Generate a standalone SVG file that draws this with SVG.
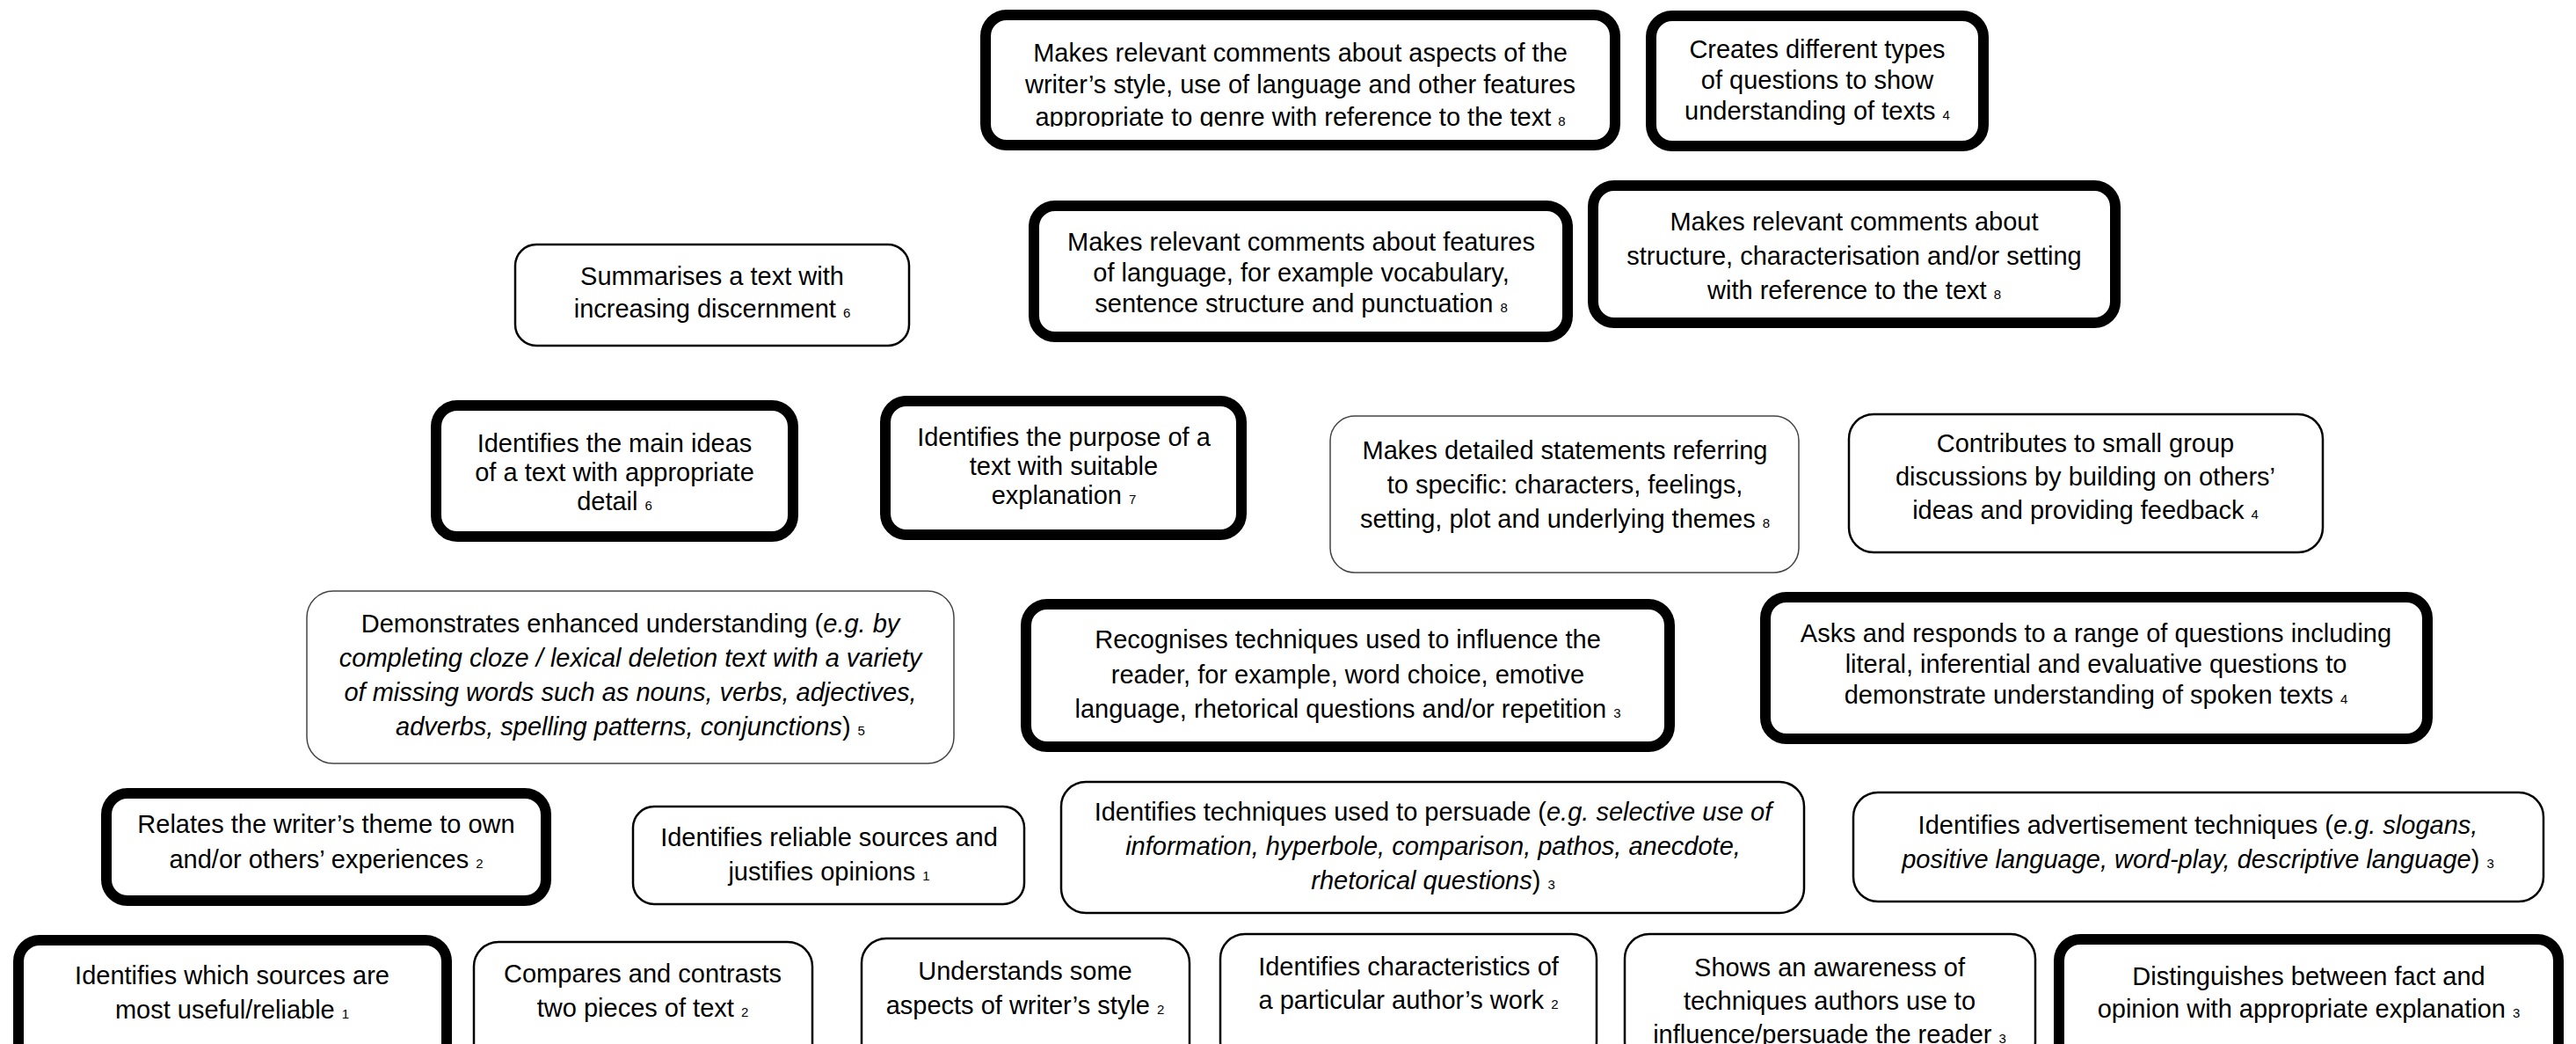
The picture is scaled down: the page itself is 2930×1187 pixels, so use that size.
<svg xmlns="http://www.w3.org/2000/svg" width="2930" height="1187" viewBox="0 0 2930 1187">
<defs>
<style>
.thick{fill:#fff;stroke:#000;stroke-width:12}
.thin{fill:#fff;stroke:#000;stroke-width:2.5}
.grey{fill:#fff;stroke:#444;stroke-width:1.5}
text{font-family:"Liberation Sans",Arial,sans-serif;font-size:29px;fill:#000;text-anchor:middle}
.n{font-size:15px}
.i{font-style:italic}
</style>
<clipPath id="c1"><rect x="1120" y="16" width="718" height="128"/></clipPath>
</defs>
<rect width="2930" height="1187" fill="#fff"/>
<g id="connectors"/>
<g id="n1"><rect class="thick" x="1121" y="17" width="716" height="148" rx="24"/>
<g clip-path="url(#c1)"><text x="1479" y="70">Makes relevant comments about aspects of the</text><text x="1479" y="106">writer’s style, use of language and other features</text><text x="1479" y="143">appropriate to genre with reference to the text <tspan class="n">8</tspan></text></g></g>
<g id="n2"><rect class="thick" x="1878" y="18" width="378" height="148" rx="24"/>
<text x="2067" y="66">Creates different types</text><text x="2067" y="101">of questions to show</text><text x="2067" y="136">understanding of texts <tspan class="n">4</tspan></text></g>
<g id="n3"><rect class="thin" x="586" y="278" width="448" height="115" rx="24"/>
<text x="810" y="324">Summarises a text with</text><text x="810" y="361">increasing discernment <tspan class="n">6</tspan></text></g>
<g id="n4"><rect class="thick" x="1176" y="234" width="607" height="149" rx="24"/>
<text x="1480" y="285">Makes relevant comments about features</text><text x="1480" y="320">of language, for example vocabulary,</text><text x="1480" y="355">sentence structure and punctuation <tspan class="n">8</tspan></text></g>
<g id="n5"><rect class="thick" x="1812" y="211" width="594" height="156" rx="24"/>
<text x="2109" y="262">Makes relevant comments about</text><text x="2109" y="301">structure, characterisation and/or setting</text><text x="2109" y="340">with reference to the text <tspan class="n">8</tspan></text></g>
<g id="n6"><rect class="thick" x="496" y="461" width="406" height="149" rx="24"/>
<text x="699" y="514">Identifies the main ideas</text><text x="699" y="547">of a text with appropriate</text><text x="699" y="580">detail <tspan class="n">6</tspan></text></g>
<g id="n7"><rect class="thick" x="1007" y="456" width="405" height="152" rx="24"/>
<text x="1210" y="507">Identifies the purpose of a</text><text x="1210" y="540">text with suitable</text><text x="1210" y="573">explanation <tspan class="n">7</tspan></text></g>
<g id="n8"><rect class="grey" x="1513" y="473" width="533" height="178" rx="28"/>
<text x="1780" y="522">Makes detailed statements referring</text><text x="1780" y="561">to specific: characters, feelings,</text><text x="1780" y="600">setting, plot and underlying themes <tspan class="n">8</tspan></text></g>
<g id="n9"><rect class="thin" x="2103" y="471" width="539" height="157" rx="28"/>
<text x="2372" y="514">Contributes to small group</text><text x="2372" y="552">discussions by building on others’</text><text x="2372" y="590">ideas and providing feedback <tspan class="n">4</tspan></text></g>
<g id="n10"><rect class="grey" x="349" y="672" width="736" height="196" rx="30"/>
<text x="717" y="719">Demonstrates enhanced understanding (<tspan class="i">e.g. by</tspan></text><text x="717" y="758" class="i">completing cloze / lexical deletion text with a variety</text><text x="717" y="797" class="i">of missing words such as nouns, verbs, adjectives,</text><text x="717" y="836"><tspan class="i">adverbs, spelling patterns, conjunctions</tspan>) <tspan class="n">5</tspan></text></g>
<g id="n11"><rect class="thick" x="1167" y="687" width="732" height="162" rx="24"/>
<text x="1533" y="737">Recognises techniques used to influence the</text><text x="1533" y="777">reader, for example, word choice, emotive</text><text x="1533" y="816">language, rhetorical questions and/or repetition <tspan class="n">3</tspan></text></g>
<g id="n12"><rect class="thick" x="2008" y="679" width="753" height="161" rx="24"/>
<text x="2384" y="730">Asks and responds to a range of questions including</text><text x="2384" y="765">literal, inferential and evaluative questions to</text><text x="2384" y="800">demonstrate understanding of spoken texts <tspan class="n">4</tspan></text></g>
<g id="n13"><rect class="thick" x="121" y="902" width="500" height="122" rx="24"/>
<text x="371" y="947">Relates the writer’s theme to own</text><text x="371" y="987">and/or others’ experiences <tspan class="n">2</tspan></text></g>
<g id="n14"><rect class="thin" x="720" y="917" width="445" height="111" rx="24"/>
<text x="943" y="962">Identifies reliable sources and</text><text x="943" y="1001">justifies opinions <tspan class="n">1</tspan></text></g>
<g id="n15"><rect class="thin" x="1207" y="889" width="845" height="149" rx="28"/>
<text x="1630" y="933">Identifies techniques used to persuade (<tspan class="i">e.g. selective use of</tspan></text><text x="1630" y="972" class="i">information, hyperbole, comparison, pathos, anecdote,</text><text x="1630" y="1011"><tspan class="i">rhetorical questions</tspan>) <tspan class="n">3</tspan></text></g>
<g id="n16"><rect class="thin" x="2108" y="901" width="785" height="124" rx="28"/>
<text x="2500" y="948">Identifies advertisement techniques (<tspan class="i">e.g. slogans,</tspan></text><text x="2500" y="987"><tspan class="i">positive language, word-play, descriptive language</tspan>) <tspan class="n">3</tspan></text></g>
<g id="n17"><rect class="thick" x="21" y="1069" width="487" height="150" rx="24"/>
<text x="264" y="1119">Identifies which sources are</text><text x="264" y="1158">most useful/reliable <tspan class="n">1</tspan></text></g>
<g id="n18"><rect class="thin" x="539" y="1071" width="385" height="150" rx="28"/>
<text x="731" y="1117">Compares and contrasts</text><text x="731" y="1156">two pieces of text <tspan class="n">2</tspan></text></g>
<g id="n19"><rect class="thin" x="980" y="1067" width="373" height="150" rx="28"/>
<text x="1166" y="1114">Understands some</text><text x="1166" y="1153">aspects of writer’s style <tspan class="n">2</tspan></text></g>
<g id="n20"><rect class="thin" x="1388" y="1062" width="428" height="150" rx="28"/>
<text x="1602" y="1109">Identifies characteristics of</text><text x="1602" y="1147">a particular author’s work <tspan class="n">2</tspan></text></g>
<g id="n21"><rect class="thin" x="1848" y="1062" width="467" height="150" rx="28"/>
<text x="2081" y="1110">Shows an awareness of</text><text x="2081" y="1148">techniques authors use to</text><text x="2081" y="1186">influence/persuade the reader <tspan class="n">3</tspan></text></g>
<g id="n22"><rect class="thick" x="2342" y="1068" width="568" height="150" rx="24"/>
<text x="2626" y="1120">Distinguishes between fact and</text><text x="2626" y="1157">opinion with appropriate explanation <tspan class="n">3</tspan></text></g>
</svg>
